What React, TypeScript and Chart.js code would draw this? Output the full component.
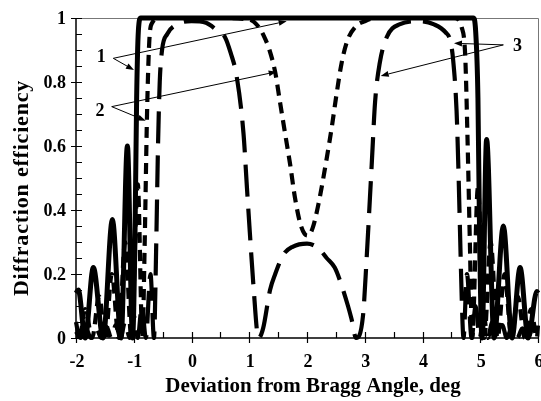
import React, { useEffect, useRef } from 'react';
import { Chart, registerables } from 'chart.js';
Chart.register(...registerables);

// Curve 1 (solid)
const curve1X = [-2.0, -1.96, -1.84, -1.70, -1.53, -1.37, -1.22, -1.11, -1.02, -0.98, -0.95, -0.92, -0.88, 0.0, 1.0, 2.0, 3.0, 4.0, 4.88, 4.92, 4.96, 4.99, 5.03, 5.11, 5.24, 5.40, 5.55, 5.69, 5.83, 5.98, 6.0];
const curve1Y = [0.14, 0.15, 0.0, 0.22, 0.0, 0.37, 0.0, 0.6, 0.0, 0.3, 0.75, 0.96, 1.0, 1.0, 1.0, 1.0, 1.0, 1.0, 1.0, 0.96, 0.75, 0.3, 0.0, 0.62, 0.0, 0.35, 0.0, 0.22, 0.0, 0.145, 0.14];

// Curve 2 (short dashes)
const curve2X = [-2.0, -1.94, -1.84, -1.72, -1.6, -1.49, -1.38, -1.26, -1.15, -1.04, -0.93, -0.85, -0.81, -0.77, -0.73, -0.68, -0.55, 0.5, 1.0, 1.15, 1.25, 1.35, 1.45, 1.53, 1.62, 1.71, 1.79, 1.88, 1.96, 2.02, 2.1, 2.2, 2.34, 2.43, 2.51, 2.6, 2.7, 2.85, 3.0, 3.2, 4.55, 4.68, 4.74, 4.78, 4.82, 4.86, 4.96, 5.07, 5.18, 5.3, 5.42, 5.54, 5.65, 5.77, 5.88, 5.98, 6.0];
const curve2Y = [0.05, 0.0, 0.09, 0.0, 0.13, 0.0, 0.2, 0.0, 0.3, 0.0, 0.48, 0.0, 0.3, 0.7, 0.93, 0.985, 1.0, 1.0, 0.995, 0.975, 0.945, 0.9, 0.83, 0.74, 0.64, 0.54, 0.44, 0.36, 0.325, 0.32, 0.345, 0.42, 0.56, 0.66, 0.76, 0.86, 0.93, 0.975, 0.99, 1.0, 1.0, 0.97, 0.88, 0.62, 0.3, 0.0, 0.47, 0.0, 0.3, 0.0, 0.2, 0.0, 0.13, 0.0, 0.09, 0.0, 0.04];

// Curve 3 (long dashes)
const curve3X = [-2.0, -1.92, -1.83, -1.74, -1.65, -1.56, -1.47, -1.39, -1.31, -1.23, -1.15, -1.07, -1.0, -0.93, -0.86, -0.79, -0.71, -0.65, -0.61, -0.58, -0.55, -0.51, -0.42, -0.25, 0.0, 0.25, 0.45, 0.58, 0.68, 0.78, 0.9, 0.96, 1.01, 1.07, 1.16, 1.24, 1.36, 1.45, 1.59, 1.75, 2.0, 2.2, 2.34, 2.48, 2.57, 2.71, 2.77, 2.85, 2.97, 3.03, 3.12, 3.18, 3.26, 3.38, 3.6, 3.96, 4.2, 4.4, 4.48, 4.53, 4.59, 4.62, 4.65, 4.68, 4.71, 4.77, 4.85, 4.92, 4.99, 5.06, 5.13, 5.21, 5.29, 5.38, 5.46, 5.55, 5.64, 5.73, 5.82, 5.91, 6.0];
const curve3Y = [0.02, 0.0, 0.03, 0.0, 0.03, 0.0, 0.035, 0.0, 0.04, 0.0, 0.05, 0.0, 0.07, 0.0, 0.1, 0.0, 0.2, 0.0, 0.3, 0.6, 0.8, 0.9, 0.95, 0.98, 0.99, 0.985, 0.96, 0.94, 0.89, 0.82, 0.64, 0.47, 0.33, 0.17, 0.0, 0.03, 0.15, 0.2, 0.26, 0.285, 0.295, 0.28, 0.25, 0.22, 0.18, 0.1, 0.06, 0.0, 0.07, 0.24, 0.54, 0.74, 0.86, 0.94, 0.98, 0.99, 0.98, 0.955, 0.93, 0.87, 0.71, 0.54, 0.33, 0.12, 0.0, 0.2, 0.0, 0.1, 0.0, 0.07, 0.0, 0.05, 0.0, 0.04, 0.0, 0.035, 0.0, 0.03, 0.0, 0.03, 0.01];

const xTickValues = [-2, -1, 0, 1, 2, 3, 4, 5, 6];
const xTickLabels = ['-2', '-1', '0', '1', '2', '3', '4', '5', '6'];
const yTickValues = [0, 0.2, 0.4, 0.6, 0.8, 1];
const yTickLabels = ['0', '0.2', '0.4', '0.6', '0.8', '1'];
const xTitle = 'Deviation from Bragg Angle, deg';
const yTitle = 'Diffraction efficiency';

// annotation labels and arrows (data coordinates)
const noteLabels = ['1', '2', '3'];
const noteLabelX = [-1.563, -1.584, 5.645];
const noteLabelY = [0.879, 0.7115, 0.916];
const noteStartX = [-1.354, -1.382, 5.4];
const noteStartY = [0.874, 0.723, 0.916];
const noteTipX = [[-0.996, 1.648], [-0.793, 1.475], [4.545, 3.276]];
const noteTipY = [[0.8375, 0.99], [0.679, 0.832], [0.921, 0.819]];

const FONT = '"Liberation Serif", "Times New Roman", "DejaVu Serif", serif';

function toPoints(xs: number[], ys: number[]) {
  return xs.map((x, i) => ({ x, y: ys[i] }));
}

const axesPlugin = {
  id: 'customAxes',
  beforeDatasetsDraw(chart: any) {
    const { ctx, chartArea: a, scales } = chart;
    const xs = scales.x, ys = scales.y;
    ctx.save();
    // top and right border
    ctx.strokeStyle = '#777';
    ctx.lineWidth = 1;
    ctx.beginPath();
    ctx.moveTo(a.left, a.top + 0.5);
    ctx.lineTo(a.right + 0.5, a.top + 0.5);
    ctx.lineTo(a.right + 0.5, a.bottom);
    ctx.stroke();
    // axes
    ctx.strokeStyle = '#000';
    ctx.lineWidth = 1.5;
    ctx.beginPath();
    ctx.moveTo(a.left, a.top);
    ctx.lineTo(a.left, a.bottom);
    ctx.lineTo(a.right, a.bottom);
    ctx.stroke();
    ctx.lineWidth = 1.2;
    ctx.beginPath();
    // y ticks
    for (let v = 0; v <= 1.0001; v += 0.05) {
      const py = Math.round(ys.getPixelForValue(v)) + 0.5;
      const major = Math.abs(v * 5 - Math.round(v * 5)) < 1e-6;
      ctx.moveTo(a.left - (major ? 5 : 0), py);
      ctx.lineTo(a.left + 6, py);
    }
    // x ticks
    for (let v = -2; v <= 6.0001; v += 0.5) {
      const px = Math.round(xs.getPixelForValue(v)) + 0.5;
      const major = Math.abs(v - Math.round(v)) < 1e-6;
      ctx.moveTo(px, a.bottom + (major ? 5 : 0));
      ctx.lineTo(px, a.bottom - 6);
    }
    ctx.stroke();
    ctx.restore();
  },
  afterDraw(chart: any) {
    const { ctx, chartArea: a, scales } = chart;
    const xs = scales.x, ys = scales.y;
    ctx.save();
    ctx.fillStyle = '#000';
    ctx.font = `bold 18px ${FONT}`;
    // y tick labels
    ctx.textAlign = 'right';
    ctx.textBaseline = 'middle';
    yTickValues.forEach((v, i) => {
      ctx.fillText(yTickLabels[i], a.left - 10, ys.getPixelForValue(v) + 1);
    });
    // x tick labels
    ctx.textAlign = 'center';
    ctx.textBaseline = 'middle';
    xTickValues.forEach((v, i) => {
      ctx.fillText(xTickLabels[i], xs.getPixelForValue(v) + 1, a.bottom + 24);
    });
    // titles
    ctx.font = `bold 21px ${FONT}`;
    ctx.fillText(xTitle, (a.left + a.right) / 2 + 6, a.bottom + 49);
    ctx.save();
    ctx.translate(22, (a.top + a.bottom) / 2 + 10);
    ctx.rotate(-Math.PI / 2);
    ctx.font = `bold 22px ${FONT}`;
    (ctx as any).letterSpacing = '0.8px';
    ctx.fillText(yTitle, 0, 0);
    ctx.restore();
    // annotations
    ctx.font = `bold 18px ${FONT}`;
    ctx.strokeStyle = '#000';
    ctx.lineWidth = 1;
    noteLabels.forEach((lab, i) => {
      ctx.fillText(lab, xs.getPixelForValue(noteLabelX[i]), ys.getPixelForValue(noteLabelY[i]) + 1);
      const sx = xs.getPixelForValue(noteStartX[i]);
      const sy = ys.getPixelForValue(noteStartY[i]);
      noteTipX[i].forEach((tx, j) => {
        const px = xs.getPixelForValue(tx);
        const py = ys.getPixelForValue(noteTipY[i][j]);
        const ang = Math.atan2(py - sy, px - sx);
        const L = 8, W = 3;
        const bx = px - L * Math.cos(ang), by = py - L * Math.sin(ang);
        ctx.beginPath();
        ctx.moveTo(sx, sy);
        ctx.lineTo(bx, by);
        ctx.stroke();
        ctx.beginPath();
        ctx.moveTo(px, py);
        ctx.lineTo(bx - W * Math.sin(ang), by + W * Math.cos(ang));
        ctx.lineTo(bx + W * Math.sin(ang), by - W * Math.cos(ang));
        ctx.closePath();
        ctx.fill();
      });
    });
    ctx.restore();
  },
};

export default function App() {
  const ref = useRef<HTMLCanvasElement | null>(null);
  useEffect(() => {
    if (!ref.current) return;
    const common = {
      borderColor: '#000',
      pointRadius: 0,
      fill: false,
      cubicInterpolationMode: 'monotone' as const,
      clip: 8,
    };
    const chart = new Chart(ref.current, {
      type: 'line',
      data: {
        datasets: [
          { ...common, label: '1', data: toPoints(curve1X, curve1Y), borderWidth: 5 },
          { ...common, label: '2', data: toPoints(curve2X, curve2Y), borderWidth: 4.2, borderDash: [11, 7] },
          { ...common, label: '3', data: toPoints(curve3X, curve3Y), borderWidth: 4.2, borderDash: [32, 12] },
        ],
      },
      options: {
        animation: false,
        responsive: false,
        parsing: false as any,
        layout: { padding: { left: 76, right: 3, top: 18, bottom: 63 } },
        plugins: { legend: { display: false }, tooltip: { enabled: false } },
        scales: {
          x: { type: 'linear', min: -2, max: 6, display: false },
          y: { type: 'linear', min: 0, max: 1, display: false },
        },
      },
      plugins: [axesPlugin],
    });
    return () => chart.destroy();
  }, []);
  return (
    <div style={{ position: 'absolute', left: 0, top: 0, width: 541, height: 401, background: '#fff' }}>
      <canvas ref={ref} width={541} height={401} />
    </div>
  );
}
